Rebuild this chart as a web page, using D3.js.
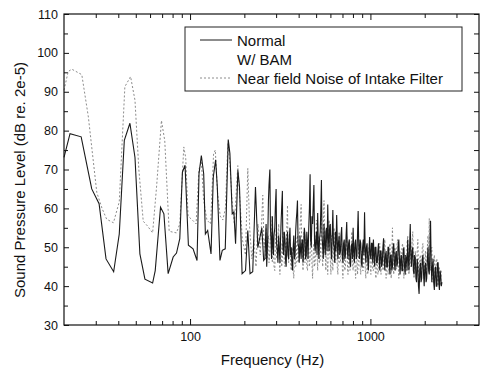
<!DOCTYPE html>
<html>
<head>
<meta charset="utf-8">
<script src="https://cdn.jsdelivr.net/npm/d3@7"></script>
<style>
  body { margin: 0; background: #fff; }
  svg text { font-family: "Liberation Sans", Arial, sans-serif; fill: #111; }
</style>
</head>
<body>
<svg id="chart" width="484" height="370"></svg>
<script>
// low frequency part, [Hz, dB]
const normalLow = [
  [20, 73.1], [21.6, 79.2], [24.9, 78.4], [28.5, 65], [31.3, 61.2], [34.2, 47], [37.7, 43.7],
  [40.5, 53.4], [43.2, 77.5], [46.4, 81.9], [49.5, 73.1], [52.7, 48.3], [56.2, 41.8], [62, 40.8],
  [64.1, 44], [68.6, 60.3], [71.6, 58.6], [75.6, 43.2], [80.6, 47.5], [84.1, 48.5], [87.7, 52.2],
  [90.7, 69.3], [93.8, 71.1], [97.9, 50.5], [103.9, 49.6], [109.3, 46.6], [112.1, 68.9], [115.5, 73.6],
  [119, 68.9], [121.6, 53.4], [125.2, 54.3], [130.7, 48.3], [134.5, 68], [138.6, 72.5], [141.6, 65.5],
  [146.5, 46.6], [150.9, 49.2], [156.7, 49.6], [162.8, 77.7], [166.3, 74.1], [171.3, 58.6], [175, 59.1],
  [178.8, 50.9], [184.1, 69.8], [188, 65.5], [194.3, 43.2], [203, 44], [209, 54.3], [215, 43.2],
  [222.6, 43.7], [230.5, 65.5], [237.5, 49.9], [250, 55], [256, 46.6]
];
const nearLow = [
  [20, 90.4], [21.1, 95.2], [22.1, 95.8], [25.1, 94.4], [27.3, 83.5], [30.4, 64.1], [32.5, 60],
  [34.5, 57.2], [37.6, 56.3], [40.5, 61.7], [43.5, 91.3], [46.8, 93.9], [49.5, 87.8], [52, 70],
  [55, 56.7], [58, 55.5], [62, 53.7], [65.2, 65.5], [69.4, 82.6], [72.4, 77.4], [76.6, 54.1],
  [84, 53.7], [87.7, 56], [92.3, 75.8], [94.6, 73], [97.5, 58], [103, 57], [108, 56], [112, 70],
  [115.5, 72], [119, 62], [124, 57], [130, 56], [135, 74], [138, 75], [142, 64], [147, 58],
  [152, 57], [157, 60], [162, 76.7], [166, 72], [171, 62], [176, 56], [184, 71], [189, 62],
  [195, 52], [203, 48], [209, 70.3], [214, 55], [220, 47], [226, 52], [232, 45], [238, 56],
  [245, 48], [253, 63.4], [257, 50]
];

// dense upper part, both spectra on the same bins
const freqHigh = [
  260, 262, 264, 266, 268, 270, 272, 274, 277, 279, 281, 283, 286, 288, 290, 292, 295, 297, 300, 302,
  305, 307, 310, 312, 315, 317, 320, 322, 325, 327, 330, 333, 336, 338, 341, 344, 347, 349, 352, 355,
  358, 361, 364, 367, 370, 373, 376, 379, 382, 385, 388, 391, 394, 397, 400, 403, 407, 410, 413, 416,
  420, 423, 427, 430, 434, 437, 441, 444, 448, 451, 455, 459, 463, 466, 470, 474, 478, 482, 486, 490,
  494, 498, 502, 506, 510, 514, 518, 522, 527, 531, 535, 539, 544, 548, 553, 557, 562, 566, 571, 575,
  580, 585, 590, 594, 599, 604, 609, 614, 619, 624, 629, 634, 639, 644, 650, 655, 660, 665, 671, 676,
  682, 687, 693, 698, 704, 710, 716, 721, 727, 733, 739, 745, 751, 757, 764, 770, 776, 782, 789, 795,
  802, 808, 815, 821, 828, 835, 842, 848, 855, 862, 869, 876, 884, 891, 898, 905, 913, 920, 928, 935,
  943, 950, 958, 966, 974, 982, 990, 998, 1006, 1014, 1022, 1030, 1039, 1047, 1056, 1064, 1073, 1082, 1091, 1100,
  1109, 1118, 1127, 1136, 1145, 1154, 1164, 1173, 1183, 1192, 1202, 1212, 1222, 1232, 1242, 1252, 1262, 1272, 1283, 1293,
  1304, 1314, 1325, 1336, 1347, 1358, 1369, 1380, 1391, 1402, 1414, 1425, 1437, 1448, 1460, 1472, 1484, 1496, 1509, 1521,
  1533, 1545, 1558, 1571, 1584, 1597, 1610, 1623, 1636, 1649, 1663, 1676, 1690, 1703, 1717, 1731, 1745, 1759, 1774, 1788,
  1803, 1817, 1832, 1847, 1862, 1877, 1893, 1908, 1924, 1939, 1955, 1971, 1987, 2003, 2019, 2035, 2052, 2069, 2086, 2103,
  2120, 2137, 2155, 2172, 2190, 2207, 2225, 2243, 2262, 2280, 2299, 2317, 2336, 2355, 2374, 2393, 2413, 2432, 2452, 2472,
  2492
];
const normalHigh = [
  47, 52, 56, 45, 49, 54, 62, 66, 70, 55, 52, 47, 58, 50, 48, 53, 55, 60, 65, 51,
  49, 46, 53, 50, 46, 51, 57, 60, 64.5, 50, 48, 54, 52, 47, 45, 51, 54, 48, 47, 52,
  55, 48, 50, 46, 44, 50, 53, 47, 48, 54, 57, 59, 62, 51, 50, 46, 53, 49, 47, 51,
  52, 46, 49, 55, 53, 47, 48, 54, 51, 47, 55, 60, 68.8, 52, 50, 58, 56, 61, 66, 51,
  49, 52, 54, 48, 58.8, 51, 47, 52, 54, 60, 67.3, 53, 50, 47, 56, 51, 48, 54, 55, 49,
  61, 52, 49, 55, 56, 50, 47, 53, 59.6, 51, 50, 46, 54, 49, 58.3, 52, 47, 51, 53, 48,
  49, 53, 55.2, 48, 46, 51, 52, 47, 48, 53, 56.5, 49, 47, 51, 52, 46, 45, 50, 51, 47,
  55, 49, 46, 51, 52, 47, 48, 53, 59.3, 50, 47, 52, 51, 46, 45, 50, 52, 48, 59, 50,
  46, 50, 51, 47, 44, 49, 52.6, 48, 47, 51, 51, 46, 52, 48, 45, 50, 50, 46, 46, 49,
  51, 47, 44, 49, 49, 45, 46, 50, 52.3, 47, 44, 48, 49, 45, 45, 50, 50, 46, 43, 48,
  48, 44, 45, 50, 51, 46, 44, 48, 49, 45, 46, 50, 52, 47, 43, 47, 48, 44, 44, 49,
  50, 45, 43, 48, 47, 44, 52, 47, 44, 50, 56, 48, 45, 49, 50, 44, 43, 48, 47, 42,
  41, 47, 45, 40, 38, 44, 46, 41, 42, 47, 48, 43, 40, 45, 46, 41, 42, 47, 50, 44,
  43, 49, 56.8, 46, 41, 45, 47, 41, 39, 44, 45, 40, 40, 46, 46, 41, 39, 44, 43, 40,
  41
];
const nearHigh = [
  52, 47, 55, 50, 47, 51, 53, 46, 49, 54, 58, 50, 46, 51, 52, 45, 44, 50, 55, 47,
  48, 52, 56, 47, 43, 49, 51, 45, 47, 53, 54, 46, 45, 51, 50, 55, 60.8, 50, 46, 52,
  52, 46, 44, 50, 49, 44, 42, 48, 51, 45, 46, 52, 53, 46, 47, 53, 55, 58, 61, 50,
  48, 44, 54, 47, 46, 52, 51, 45, 44, 49, 50, 45, 47, 52, 55, 46, 42, 48, 51, 45,
  46, 51, 57, 48, 44, 50, 53, 46, 47, 52, 58, 49, 45, 55, 62, 50, 48, 44, 55, 47,
  43, 50, 57, 49, 47, 43, 53, 48, 44, 50, 55, 47, 46, 51, 52, 45, 43, 49, 54, 46,
  46, 50, 51, 45, 42, 48, 50, 44, 45, 51, 53, 46, 43, 48, 49, 44, 45, 50, 54, 46,
  44, 49, 50, 45, 42, 47, 48, 43, 45, 50, 51, 45, 43, 48, 49, 44, 44, 49, 50, 45,
  42, 47, 48, 43, 45, 50, 51, 45, 43, 48, 49, 44, 44, 49, 50, 44, 42, 46, 48, 43,
  44, 49, 51, 45, 43, 48, 49, 44, 45, 50, 52, 46, 42, 47, 48, 43, 44, 49, 51, 45,
  42, 48, 55, 47, 43, 48, 50, 44, 44, 50, 52, 46, 42, 47, 49, 44, 45, 50, 51, 45,
  42, 47, 48, 43, 45, 51, 53, 46, 43, 48, 50, 45, 46, 51, 54, 47, 42, 46, 49, 44,
  44, 49, 52, 45, 41, 47, 48, 42, 44, 50, 51, 44, 42, 47, 49, 43, 45, 50, 53, 46,
  57.4, 48, 44, 49, 50, 43, 41, 46, 48, 42, 42, 47, 47, 41, 40, 45, 45, 40, 41, 44,
  44
];

const yMajor = [30, 40, 50, 60, 70, 80, 90, 100, 110];
const yMinor = [35, 45, 55, 65, 75, 85, 95, 105];
const xMajor = [100, 1000];
const xMinor = [30, 40, 50, 60, 70, 80, 90, 200, 300, 400, 500, 600, 700, 800, 900, 2000, 3000];
const legendLabels = ['Normal', 'W/ BAM', 'Near field Noise of Intake Filter'];

const svg = d3.select('#chart');
const plot = { left: 64, right: 479, top: 14, bottom: 325 };

const x = d3.scaleLog().domain([20, 4000]).range([plot.left, plot.right]);
const y = d3.scaleLinear().domain([30, 110]).range([plot.bottom, plot.top]);

function styleAxis(g) {
  g.select('.domain').remove();
  g.selectAll('line').attr('stroke', '#111');
  g.selectAll('text').attr('font-size', 12.5).attr('fill', '#111')
    .attr('font-family', '"Liberation Sans", Arial, sans-serif');
}

// bottom
svg.append('g').attr('transform', `translate(0,${plot.bottom})`)
  .call(d3.axisBottom(x).tickValues(xMinor).tickSize(-4).tickFormat(''))
  .call(styleAxis);
svg.append('g').attr('transform', `translate(0,${plot.bottom})`)
  .call(d3.axisBottom(x).tickValues(xMajor).tickSize(-6).tickPadding(7).tickFormat(d3.format('d')))
  .call(styleAxis);
// top
svg.append('g').attr('transform', `translate(0,${plot.top})`)
  .call(d3.axisTop(x).tickValues(xMinor).tickSize(-4).tickFormat(''))
  .call(styleAxis);
svg.append('g').attr('transform', `translate(0,${plot.top})`)
  .call(d3.axisTop(x).tickValues(xMajor).tickSize(-6).tickFormat(''))
  .call(styleAxis);
// left
svg.append('g').attr('transform', `translate(${plot.left},0)`)
  .call(d3.axisLeft(y).tickValues(yMajor).tickSize(-5).tickPadding(6))
  .call(styleAxis);
svg.append('g').attr('transform', `translate(${plot.left},0)`)
  .call(d3.axisLeft(y).tickValues(yMinor).tickSize(-4).tickFormat(''))
  .call(styleAxis);
// right
svg.append('g').attr('transform', `translate(${plot.right},0)`)
  .call(d3.axisRight(y).tickValues(yMajor.concat(yMinor)).tickSize(-5).tickFormat(''))
  .call(styleAxis);

const line = d3.line()
  .x(d => x(d[0]))
  .y(d => y(d[1]));

const nearData = nearLow.concat(freqHigh.map((f, i) => [f, nearHigh[i]]));
const normalData = normalLow.concat(freqHigh.map((f, i) => [f, normalHigh[i]]));

svg.append('path')
  .datum(nearData)
  .attr('d', line)
  .attr('fill', 'none')
  .attr('stroke', '#8c8c8c')
  .attr('stroke-width', 1)
  .attr('stroke-dasharray', '2,2');

svg.append('path')
  .datum(normalData)
  .attr('d', line)
  .attr('fill', 'none')
  .attr('stroke', '#1a1a1a')
  .attr('stroke-width', 1.1);

// frame
svg.append('rect')
  .attr('x', plot.left).attr('y', plot.top)
  .attr('width', plot.right - plot.left).attr('height', plot.bottom - plot.top)
  .attr('fill', 'none').attr('stroke', '#111').attr('stroke-width', 1.2);

// legend
const legend = svg.append('g');
legend.append('rect')
  .attr('x', 185).attr('y', 27).attr('width', 277).attr('height', 64)
  .attr('fill', '#fff').attr('stroke', '#222').attr('stroke-width', 1);
const rows = [
  { label: legendLabels[0], stroke: '#1a1a1a', dash: null },
  { label: legendLabels[1], stroke: null, dash: null },
  { label: legendLabels[2], stroke: '#8c8c8c', dash: '2,2' }
];
rows.forEach((r, i) => {
  const cy = 40 + i * 19;
  if (r.stroke) {
    legend.append('line')
      .attr('x1', 200).attr('x2', 232).attr('y1', cy).attr('y2', cy)
      .attr('stroke', r.stroke).attr('stroke-width', 1)
      .attr('stroke-dasharray', r.dash);
  }
  legend.append('text')
    .attr('x', 237).attr('y', cy + 5.5)
    .attr('font-size', 15)
    .text(r.label);
});

// axis titles
svg.append('text')
  .attr('x', (plot.left + plot.right) / 2 + 1).attr('y', 365)
  .attr('text-anchor', 'middle')
  .attr('font-size', 15)
  .text('Frequency (Hz)');

svg.append('text')
  .attr('transform', 'translate(25,180) rotate(-90)')
  .attr('text-anchor', 'middle')
  .attr('font-size', 15)
  .text('Sound Pressure Level (dB re. 2e-5)');
</script>
</body>
</html>
